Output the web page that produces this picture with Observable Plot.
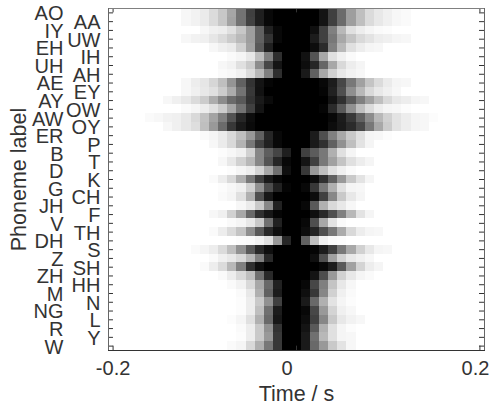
<!DOCTYPE html>
<html><head><meta charset="utf-8">
<style>html,body{margin:0;padding:0;background:#fff}svg{display:block}</style>
<script src="https://cdn.jsdelivr.net/npm/d3@7"></script>
<script src="https://cdn.jsdelivr.net/npm/@observablehq/plot@0.6"></script>
</head><body><div id="chart"></div>
<script>
const phonemes = ["AO","AA","IY","UW","EH","IH","UH","AH","AE","EY","AY","OW","AW","OY","ER","P","B","T","D","K","G","CH","JH","F","V","TH","DH","S","Z","SH","ZH","HH","M","N","NG","L","R","Y","W"];
// time frames in ms, 10 ms apart
const frames = [-200,-190,-180,-170,-160,-150,-140,-130,-120,-110,-100,-90,-80,-70,-60,-50,-40,-30,-20,-10,0,10,20,30,40,50,60,70,80,90,100,110,120,130,140,150,160,170,180,190,200];
const firstFrame = 4; // darkness lists start at -160 ms
// darkness (0 white .. 100 black), -160 ms .. +160 ms
const AO=[0,0,0,0, 3,5,8,14, 22,35,55,75, 88,97,100,100, 100, 100,100,92,75, 58,38,25,14, 9,6,3,2, 0,0,0,0];
const AA=[0,0,0,0, 3,5,8,14, 22,36,55,74, 88,97,100,100, 100, 100,100,92,75, 58,38,25,14, 9,6,3,2, 0,0,0,0];
const IY=[0,0,0,0, 0,0,3,6, 7,12,22,38, 62,87,97,100, 100, 100,94,75,50, 28,12,7,4, 2,1,0,0, 0,0,0,0];
const UW=[0,0,0,0, 3,5,6,10, 14,20,27,38, 62,80,97,100, 100, 100,89,75,53, 34,23,15,11, 7,6,4,3, 0,0,0,0];
const EH=[0,0,0,0, 0,0,0,3, 6,8,18,36, 65,88,100,100, 100, 100,95,83,50, 28,12,7,4, 3,0,0,0, 0,0,0,0];
const IH=[0,0,0,0, 0,0,0,0, 0,2,4,9, 25,50,82,100, 100, 93,67,34,12, 6,2,0,0, 0,0,0,0, 0,0,0,0];
const UH=[0,0,0,0, 0,0,0,0, 3,5,12,20, 45,72,92,100, 100, 95,85,60,34, 15,7,4,0, 0,0,0,0, 0,0,0,0];
const AH=[0,0,0,0, 0,0,0,0, 2,3,6,14, 28,50,82,100, 100, 90,62,34,18, 9,5,3,0, 0,0,0,0, 0,0,0,0];
const AE=[0,0,0,0, 3,7,10,16, 25,42,62,80, 92,98,100,100, 100, 100,100,97,89, 72,53,37,23, 14,8,4,3, 0,0,0,0];
const EY=[0,0,0,0, 3,6,9,12, 20,33,55,78, 93,100,100,100, 100, 100,100,98,87, 69,44,28,15, 9,6,3,0, 0,0,0,0];
const AY=[0,0,3,6, 9,14,20,32, 45,58,65,80, 90,96,100,100, 100, 100,100,100,92, 81,65,50,37, 25,15,9,7, 4,3,0,0];
const OW=[0,0,0,0, 2,4,7,12, 20,35,55,75, 92,100,100,100, 100, 100,100,98,83, 65,43,25,14, 7,4,3,1, 0,0,0,0];
const AW=[2,3,5,6, 9,15,24,36, 50,68,85,95, 100,100,100,100, 100, 100,100,100,97, 89,78,62,45, 28,18,11,7, 4,3,1,0];
const OY=[0,0,3,6, 9,13,25,40, 58,78,90,96, 100,100,100,100, 100, 100,100,100,95, 90,83,72,53, 34,20,11,7, 4,3,0,0];
const ER=[0,0,0,0, 0,0,2,4, 8,15,25,40, 62,85,97,100, 100, 100,89,69,50, 34,21,12,4, 3,1,0,0, 0,0,0,0];
const P=[0,0,0,0, 0,0,0,3, 8,15,30,53, 75,87,97,100, 100, 100,90,81,62, 43,25,11,4, 0,0,0,0, 0,0,0,0];
const B=[0,0,0,0, 0,0,0,0, 1,3,6,18, 47,63,73,88, 100, 75,64,53,31, 12,4,0,0, 0,0,0,0, 0,0,0,0];
const T=[0,0,0,0, 0,0,0,0, 3,9,18,28, 47,67,85,97, 100, 92,75,53,37, 23,12,7,4, 0,0,0,0, 0,0,0,0];
const D=[0,0,0,0, 0,0,0,0, 0,1,4,7, 17,34,56,94, 100, 78,40,25,12, 6,2,0,0, 0,0,0,0, 0,0,0,0];
const K=[0,0,0,0, 0,0,0,2, 7,15,31,53, 75,90,97,100, 100, 100,95,81,62, 40,21,11,4, 0,0,0,0, 0,0,0,0];
const G=[0,0,0,0, 0,0,0,0, 1,3,6,18, 43,70,87,98, 100, 97,78,53,31, 12,4,3,0, 0,0,0,0, 0,0,0,0];
const CH=[0,0,0,0, 0,0,0,0, 2,4,12,31, 69,91,100,100, 100, 100,95,75,47, 21,9,4,0, 0,0,0,0, 0,0,0,0];
const JH=[0,0,0,0, 0,0,0,0, 0,0,3,8, 21,47,87,100, 100, 97,65,31,15, 9,3,0,0, 0,0,0,0, 0,0,0,0];
const F=[0,0,0,0, 0,0,0,3, 6,18,34,59, 81,91,98,100, 100, 100,94,84,69, 50,28,11,4, 0,0,0,0, 0,0,0,0];
const V=[0,0,0,0, 0,0,0,0, 0,2,4,9, 21,56,87,100, 100, 97,69,34,11, 2,0,0,0, 0,0,0,0, 0,0,0,0];
const TH=[0,0,0,0, 0,0,0,2, 7,14,23,44, 65,84,94,100, 100, 95,86,69,53, 33,15,7,4, 3,0,0,0, 0,0,0,0];
const DH=[0,0,0,0, 0,0,0,0, 0,0,1,2, 5,12,40,85, 100, 62,25,6,2, 1,0,0,0, 0,0,0,0, 0,0,0,0];
const S=[0,0,0,0, 0,2,4,7, 14,25,43,65, 84,94,100,100, 100, 100,98,89,75, 53,34,18,9, 4,3,0,0, 0,0,0,0];
const Z=[0,0,0,0, 0,0,0,2, 6,9,15,28, 50,84,100,100, 100, 100,94,69,37, 18,9,6,3, 0,0,0,0, 0,0,0,0];
const SH=[0,0,0,0, 0,0,2,7, 14,28,50,81, 94,100,100,100, 100, 100,100,97,89, 65,37,17,7, 4,0,0,0, 0,0,0,0];
const ZH=[0,0,0,0, 0,0,0,0, 2,7,15,25, 56,84,100,100, 100, 100,92,70,40, 18,9,4,2, 0,0,0,0, 0,0,0,0];
const HH=[0,0,0,0, 0,0,0,0, 0,2,5,15, 34,59,87,100, 100, 97,72,50,23, 9,3,0,0, 0,0,0,0, 0,0,0,0];
const M=[0,0,0,0, 0,0,0,0, 0,0,2,9, 31,62,89,100, 100, 94,78,47,18, 6,2,0,0, 0,0,0,0, 0,0,0,0];
const N=[0,0,0,0, 0,0,0,0, 0,0,1,7, 21,43,75,100, 100, 90,59,31,11, 4,1,0,0, 0,0,0,0, 0,0,0,0];
const NG=[0,0,0,0, 0,0,0,0, 0,0,1,7, 25,56,89,100, 100, 97,72,40,17, 6,3,0,0, 0,0,0,0, 0,0,0,0];
const L=[0,0,0,0, 0,0,0,0, 0,1,4,12, 31,59,91,100, 100, 95,75,47,21, 9,5,3,0, 0,0,0,0, 0,0,0,0];
const R=[0,0,0,0, 0,0,0,0, 0,0,2,7, 21,43,80,100, 100, 92,65,31,12, 4,1,0,0, 0,0,0,0, 0,0,0,0];
const Y=[0,0,0,0, 0,0,0,0, 0,0,1,7, 21,40,78,100, 100, 90,56,28,12, 4,3,0,0, 0,0,0,0, 0,0,0,0];
const W=[0,0,0,0, 0,0,0,0, 0,2,4,15, 31,53,78,100, 100, 90,59,40,21, 11,3,0,0, 0,0,0,0, 0,0,0,0];
const rows=[AO,AA,IY,UW,EH,IH,UH,AH,AE,EY,AY,OW,AW,OY,ER,P,B,T,D,K,G,CH,JH,F,V,TH,DH,S,Z,SH,ZH,HH,M,N,NG,L,R,Y,W];
const xTickValues=[-200,0,200];
const xLabelShift=[0,-9.5,-4.5];

const cells=rows.flatMap((row,r)=>row.map((dark,i)=>({phoneme:phonemes[r],t:frames[i+firstFrame],dark})));
const ink="#333";
const fs=20;
const titleFs=21.5;
const firstT=frames[0], lastT=frames[frames.length-1];
const firstP=phonemes[0], lastP=phonemes[phonemes.length-1];

const chart=Plot.plot({
  width:489,height:404,
  marginLeft:108,marginRight:5,marginTop:8,marginBottom:54,
  style:{fontFamily:"'Liberation Sans',Arial,sans-serif",background:"#fff"},
  x:{type:"band",domain:frames,padding:0,round:false,axis:null,label:null},
  y:{type:"band",domain:phonemes,padding:0,round:false,axis:null,label:null},
  color:{type:"linear",domain:[0,100],range:["#ffffff","#000000"]},
  marks:[
    Plot.cell(cells,{x:"t",y:"phoneme",fill:"dark",shapeRendering:"crispEdges"}),
    Plot.tickY(phonemes,{y:d=>d,x:()=>firstT,insetRight:4.2,stroke:ink}),
    Plot.tickY(phonemes,{y:d=>d,x:()=>lastT,insetLeft:4.2,stroke:ink}),
    Plot.tickX(xTickValues,{x:d=>d,y:()=>firstP,insetBottom:4.4,stroke:ink}),
    Plot.tickX(xTickValues,{x:d=>d,y:()=>lastP,insetTop:4.4,stroke:ink}),
    Plot.frame({anchor:"top",stroke:"#808080"}),
    Plot.frame({anchor:"left",stroke:"#666"}),
    Plot.frame({anchor:"right",stroke:"#666"}),
    Plot.frame({anchor:"bottom",stroke:ink}),
    Plot.axisY(phonemes.filter((d,i)=>i%2===0),{anchor:"left",tickSize:0,tickPadding:45,dy:1,fontSize:fs,fill:ink,label:null}),
    Plot.axisY(phonemes.filter((d,i)=>i%2===1),{anchor:"left",tickSize:0,tickPadding:8,dy:1,fontSize:fs,fill:ink,label:null}),
    ...xTickValues.map((t,i)=>Plot.axisX([t],{anchor:"bottom",tickSize:0,tickPadding:10,dx:xLabelShift[i],fontSize:fs,fill:ink,label:null,tickFormat:d=>String(d/1000)})),
    Plot.axisX([],{anchor:"bottom",tick:null,label:"Time / s",labelAnchor:"center",labelArrow:"none",labelOffset:50,fontSize:titleFs,fill:ink}),
    Plot.axisY([],{anchor:"left",label:"Phoneme label",labelAnchor:"center",labelArrow:"none",labelOffset:98,fontSize:titleFs,fill:ink,dy:-3})
  ]
});
document.getElementById("chart").append(chart);
</script></body></html>
